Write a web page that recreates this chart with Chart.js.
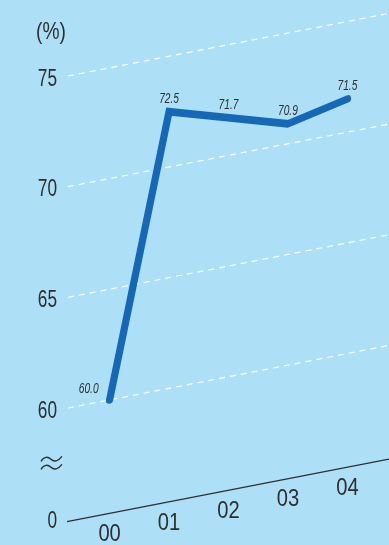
<!DOCTYPE html>
<html>
<head>
<meta charset="utf-8">
<script src="https://cdn.jsdelivr.net/npm/chart.js@4/dist/chart.umd.min.js"></script>
<style>
  html, body { margin: 0; padding: 0; background: #ade0f7; }
  #wrap { width: 389px; height: 545px; position: relative; }
</style>
</head>
<body>
<div id="wrap"><canvas id="c"></canvas></div>
<script>
// Years (2000-2004) and the rate for each year, in %
const years = ['00', '01', '02', '03', '04'];
const rates = [60.0, 72.5, 71.7, 70.9, 71.5];
// Dashed guide levels and the value shown as "0" below the axis break
const gridValues = [60, 65, 70, 75];
const axisBase = 55;
const unitLabel = '(%)';

const SLOPE = 0.195;            // upward tilt of the whole plot, px per px
const FONT = '"Liberation Sans", Arial, sans-serif';
const INK = '#2e2e2e';
const LINE = '#1668b6';

// Raise a point according to its horizontal distance from the plot's left edge
function lift(chart, x, y) {
  return y - SLOPE * (x - chart.chartArea.left);
}

// Text squeezed horizontally to get a condensed face
function narrowText(ctx, txt, x, y, sx, align) {
  ctx.save();
  ctx.translate(x, y);
  ctx.scale(sx, 1);
  ctx.textAlign = align;
  ctx.fillText(txt, 0, 0);
  ctx.restore();
}

const slanted = {
  id: 'slanted',
  beforeDatasetsDraw(chart) {
    const { ctx, chartArea: a, scales: { x, y } } = chart;
    const right = chart.width;
    ctx.save();

    // dashed guides
    ctx.strokeStyle = 'rgba(255,255,255,0.95)';
    ctx.lineWidth = 1.2;
    ctx.setLineDash([6, 5]);
    gridValues.forEach(v => {
      const py = y.getPixelForValue(v);
      ctx.beginPath();
      ctx.moveTo(a.left, py);
      ctx.lineTo(right, lift(chart, right, py));
      ctx.stroke();
    });
    ctx.setLineDash([]);

    // tilted base line
    const by = y.getPixelForValue(axisBase) + 3;
    ctx.strokeStyle = INK;
    ctx.lineWidth = 1.3;
    ctx.beginPath();
    ctx.moveTo(a.left - 1, by);
    ctx.lineTo(right, lift(chart, right, by));
    ctx.stroke();

    ctx.fillStyle = INK;
    ctx.textBaseline = 'middle';
    ctx.font = '24px ' + FONT;

    // value axis labels, taken from the scale's own ticks
    y.ticks.forEach((t, i) => {
      const v = t.value;
      const txt = v === axisBase ? '0' : (v % 5 === 0 ? String(v) : '');
      if (txt) narrowText(ctx, txt, a.left - 11, y.getPixelForTick(i) + 3, 0.72, 'right');
    });

    // year labels following the base line
    years.forEach((lab, i) => {
      const px = x.getPixelForValue(i);
      narrowText(ctx, lab, px, lift(chart, px, by) + 21, 0.84, 'center');
    });

    // unit label
    narrowText(ctx, unitLabel, 51, 32, 0.8, 'center');

    // axis break mark
    const my = y.getPixelForValue(57.5);
    ctx.lineWidth = 1.4;
    [-4, 4].forEach(off => {
      const cy = my + off;
      ctx.beginPath();
      ctx.moveTo(41, cy + 2);
      ctx.bezierCurveTo(44, cy - 3, 48, cy - 3, 51, cy);
      ctx.bezierCurveTo(54, cy + 3, 58, cy + 2, 62, cy - 3);
      ctx.stroke();
    });
    ctx.restore();

    // shear the series along with the guides
    ctx.save();
    ctx.transform(1, -SLOPE, 0, 1, 0, SLOPE * a.left);
  },
  afterDatasetsDraw(chart) {
    const ctx = chart.ctx;
    ctx.restore();

    // value labels
    const meta = chart.getDatasetMeta(0);
    ctx.save();
    ctx.fillStyle = INK;
    ctx.font = 'italic 15px ' + FONT;
    ctx.textBaseline = 'middle';
    meta.data.forEach((pt, i) => {
      const px = pt.x;
      const py = lift(chart, pt.x, pt.y);
      const txt = rates[i].toFixed(1);
      if (i === 0) narrowText(ctx, txt, px - 11, py - 11, 0.68, 'right');
      else narrowText(ctx, txt, px, py - 13, 0.68, 'center');
    });
    ctx.restore();
  }
};

new Chart(document.getElementById('c'), {
  type: 'line',
  data: {
    datasets: [{
      data: years.map((_, i) => ({ x: i, y: rates[i] })),
      borderColor: LINE,
      borderWidth: 7.5,
      borderCapStyle: 'round',
      borderJoinStyle: 'miter',
      pointRadius: 0,
      tension: 0,
      clip: false
    }]
  },
  options: {
    responsive: true,
    maintainAspectRatio: false,
    animation: false,
    layout: { padding: { top: 31.7, bottom: 26.3, left: 0, right: 0 } },
    plugins: { legend: { display: false }, tooltip: { enabled: false } },
    scales: {
      x: { type: 'linear', min: -0.7, max: 4.7, display: false },
      y: {
        min: axisBase,
        max: 77,
        grid: { display: false, drawTicks: false },
        border: { display: false },
        afterFit(scale) { scale.width = 68; },
        ticks: { stepSize: 5, display: false }
      }
    }
  },
  plugins: [slanted]
});
</script>
</body>
</html>
